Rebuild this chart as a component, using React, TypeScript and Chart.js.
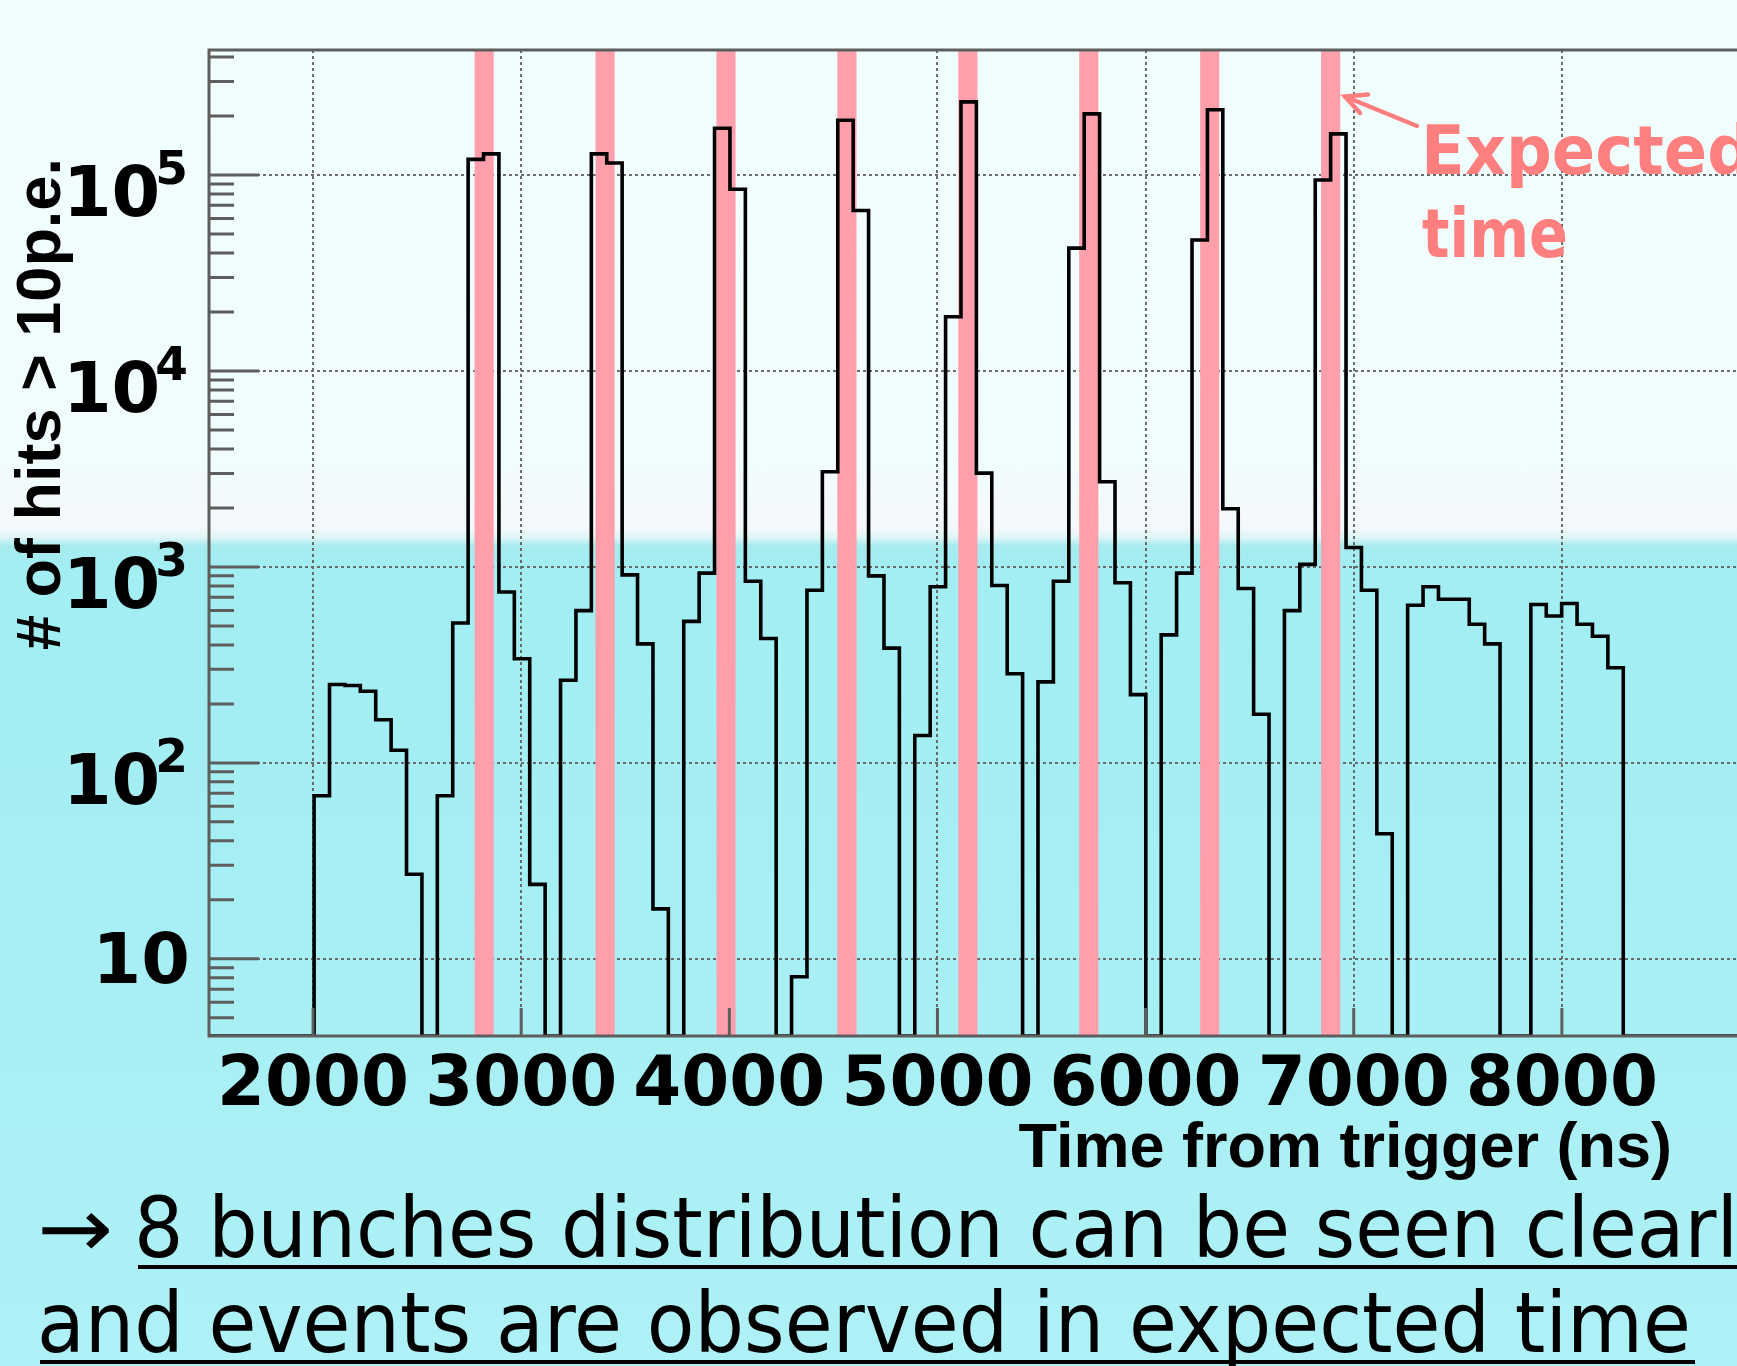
import React, { useEffect, useRef } from 'react';
import { Chart, registerables } from 'chart.js';

Chart.register(...registerables);

// ---------------- data ----------------
// Histogram of "# of hits > 10 p.e." vs time from trigger, 74 ns bins starting at 2005 ns
const BIN_START_NS = 2005;
const BIN_WIDTH_NS = 74;
const HITS = [
  68, 251, 248, 232, 166, 116, 27, 0,
  68, 517, 120000, 128000, 745, 340, 24, 0,
  264, 598, 128000, 115000, 910, 405, 18, 0,
  527, 929, 173000, 84500, 845, 431, 0,
  8.1, 760, 3060, 190000, 65800, 900, 385, 0,
  138, 792, 18900, 236000, 3010, 803, 285, 0,
  259, 845, 42300, 205000, 2720, 830, 223, 0,
  450, 929, 46600, 215000, 1980, 776, 177, 0,
  598, 1030, 94300, 162000, 1257, 760, 43.5, 0,
  637, 792, 684, 684, 510, 405, 0, 0,
  643, 562, 650, 510, 443, 306,
];
// expected bunch arrival times (ns)
const EXPECTED_TIMES = [2822, 3403, 3984, 4565, 5146, 5727, 6308, 6889];
const EXPECTED_WIDTH_NS = 92;

const X_MIN = 1500;
const X_MAX = 9000;
const Y_MIN = 4.04;
const Y_MAX = 434000;
const X_TICKS = [2000, 3000, 4000, 5000, 6000, 7000, 8000];
const X_TICK_LABELS = ['2000', '3000', '4000', '5000', '6000', '7000', '8000'];
const Y_TICKS = [10, 100, 1000, 10000, 100000];
const Y_TICK_BASES = ['10', '10', '10', '10', '10'];
const Y_TICK_EXPONENTS = ['', '2', '3', '4', '5'];
const X_TITLE = 'Time from trigger (ns)';
const Y_TITLE = '# of hits > 10p.e.';

// ---------------- styles ----------------
const BAND_COLOR = '#ff9fac';
const AXIS_COLOR = '#5e5e5e';
const GRID_COLOR = 'rgba(100,100,100,0.95)';
const PINK_TEXT = '#ff7f7f';

const rootStylePlugin = {
  id: 'rootStyle',
  beforeDatasetsDraw(chart: any) {
    const { ctx, chartArea: a, scales } = chart;
    const x = scales.x;
    ctx.save();
    ctx.fillStyle = BAND_COLOR;
    EXPECTED_TIMES.forEach((t) => {
      const x0 = x.getPixelForValue(t - EXPECTED_WIDTH_NS / 2);
      const x1 = x.getPixelForValue(t + EXPECTED_WIDTH_NS / 2);
      ctx.fillRect(x0, a.top, x1 - x0, a.bottom - a.top);
    });
    ctx.restore();
  },
  afterDatasetsDraw(chart: any) {
    const { ctx, chartArea: a, scales } = chart;
    const x = scales.x;
    const y = scales.y;
    ctx.save();
    // frame
    ctx.strokeStyle = AXIS_COLOR;
    ctx.lineWidth = 3;
    ctx.strokeRect(a.left, a.top, a.right - a.left, a.bottom - a.top);
    // y ticks (inside), major + minor
    ctx.beginPath();
    for (let e = 0; e <= 5; e++) {
      for (let m = 1; m <= 9; m++) {
        const v = m * Math.pow(10, e);
        if (v < Y_MIN || v > Y_MAX) continue;
        const py = y.getPixelForValue(v);
        const len = m === 1 ? 50 : 25;
        ctx.moveTo(a.left, py);
        ctx.lineTo(a.left + len, py);
      }
    }
    // x ticks (inside)
    X_TICKS.forEach((t) => {
      const px = x.getPixelForValue(t);
      ctx.moveTo(px, a.bottom);
      ctx.lineTo(px, a.bottom - 28);
    });
    ctx.stroke();

    // tick labels
    ctx.fillStyle = '#000';
    ctx.textBaseline = 'alphabetic';
    ctx.font = 'bold 69px "DejaVu Sans"';
    ctx.textAlign = 'center';
    X_TICKS.forEach((t, i) => {
      ctx.fillText(X_TICK_LABELS[i], x.getPixelForValue(t), a.bottom + 69);
    });
    ctx.textAlign = 'right';
    const R = a.left - 21;
    Y_TICKS.forEach((v, i) => {
      const py = y.getPixelForValue(v);
      const exp = Y_TICK_EXPONENTS[i];
      if (exp) {
        ctx.font = 'bold 47px "DejaVu Sans"';
        const w = ctx.measureText(exp).width;
        ctx.fillText(exp, R, py + 9);
        ctx.font = 'bold 70px "DejaVu Sans"';
        ctx.fillText(Y_TICK_BASES[i], R - w + 5, py + 41);
      } else {
        ctx.font = 'bold 70px "DejaVu Sans"';
        ctx.fillText(Y_TICK_BASES[i], R + 2, py + 24);
      }
    });

    // axis titles
    ctx.font = 'bold 63px "Liberation Sans"';
    ctx.textAlign = 'right';
    ctx.fillText(X_TITLE, 1672, a.bottom + 131);
    ctx.translate(60, 650);
    ctx.rotate(-Math.PI / 2);
    ctx.textAlign = 'left';
    ctx.fillText(Y_TITLE, 0, 0);
    ctx.restore();
  },
};

export default function App() {
  const canvasRef = useRef<HTMLCanvasElement>(null);

  useEffect(() => {
    const points: { x: number; y: number }[] = [{ x: X_MIN, y: Y_MIN }];
    HITS.forEach((v, i) => {
      points.push({ x: BIN_START_NS + i * BIN_WIDTH_NS, y: v > 0 ? v : Y_MIN });
    });
    points.push({ x: BIN_START_NS + HITS.length * BIN_WIDTH_NS, y: Y_MIN });
    points.push({ x: X_MAX, y: Y_MIN });

    const chart = new Chart(canvasRef.current as HTMLCanvasElement, {
      type: 'line',
      data: {
        datasets: [
          {
            data: points,
            borderColor: '#000',
            borderWidth: 3.6,
            pointRadius: 0,
            stepped: true,
            fill: false,
            borderJoinStyle: 'miter',
            borderCapStyle: 'butt',
          } as any,
        ],
      },
      options: {
        animation: false,
        responsive: false,
        maintainAspectRatio: false,
        devicePixelRatio: 1,
        events: [],
        layout: { padding: { top: 50, left: 0, right: 30, bottom: 0 } },
        plugins: {
          legend: { display: false },
          tooltip: { enabled: false },
          title: { display: false },
        },
        scales: {
          x: {
            type: 'linear',
            min: X_MIN,
            max: X_MAX,
            afterBuildTicks: (s: any) => {
              s.ticks = X_TICKS.map((value) => ({ value }));
            },
            afterFit: (s: any) => {
              s.height = 164;
            },
            ticks: { display: false },
            grid: { color: GRID_COLOR, lineWidth: 2, drawTicks: false },
            border: { display: false, dash: [3, 3] },
          },
          y: {
            type: 'logarithmic',
            min: Y_MIN,
            max: Y_MAX,
            afterBuildTicks: (s: any) => {
              s.ticks = Y_TICKS.map((value) => ({ value }));
            },
            afterFit: (s: any) => {
              s.width = 209;
            },
            ticks: { display: false },
            grid: { color: GRID_COLOR, lineWidth: 2, drawTicks: false },
            border: { display: false, dash: [3, 3] },
          },
        } as any,
      },
      plugins: [rootStylePlugin],
    });
    return () => chart.destroy();
  }, []);

  const bg =
    'linear-gradient(180deg, #f0fefe 0px, #f1fcfd 470px, #f5f8fb 528px, #dcf5f7 538px, #a6ebee 546px, #a2eef3 565px, #a6eff4 900px, #aef1f6 1366px)';

  return (
    <div
      style={{
        position: 'fixed',
        left: 0,
        top: 0,
        width: 1737,
        height: 1366,
        overflow: 'hidden',
        background: bg,
      }}
    >
      <canvas
        ref={canvasRef}
        width={1800}
        height={1200}
        style={{ position: 'absolute', left: 0, top: 0, width: 1800, height: 1200 }}
      />
      <svg
        width={1737}
        height={1366}
        style={{ position: 'absolute', left: 0, top: 0, pointerEvents: 'none' }}
      >
        <g fill={PINK_TEXT} fontFamily="DejaVu Sans" fontWeight="bold" fontSize={68}>
          <text x={1421} y={174} textLength={332} lengthAdjust="spacingAndGlyphs">Expected</text>
          <text x={1422} y={257} textLength={146} lengthAdjust="spacingAndGlyphs">time</text>
        </g>
        <g stroke={PINK_TEXT} strokeWidth={4.5} strokeLinecap="round" fill="none">
          <line x1={1417} y1={126} x2={1345} y2={96.5} />
          <polyline points="1368,94.5 1345,96.5 1360,113" />
        </g>
        <g fill="#000" fontFamily="DejaVu Sans" fontSize={83}>
          <text x={37} y={1257} textLength={76} lengthAdjust="spacingAndGlyphs">→</text>
          <text x={134} y={1257} textLength={1650} lengthAdjust="spacingAndGlyphs">
            8 bunches distribution can be seen clearly
          </text>
          <text x={37} y={1352} textLength={1654} lengthAdjust="spacingAndGlyphs">
            and events are observed in expected time
          </text>
        </g>
        <rect x={138} y={1265} width={1620} height={4} fill="#000" />
        <rect x={40} y={1360} width={1655} height={4} fill="#000" />
      </svg>
    </div>
  );
}
